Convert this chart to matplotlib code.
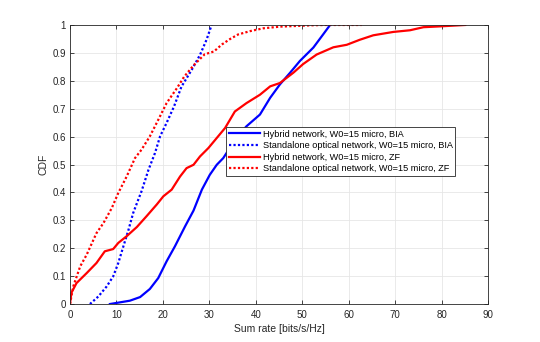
import matplotlib
matplotlib.use("Agg")
import matplotlib.pyplot as plt

plt.rcParams['font.family'] = ['Liberation Sans', 'DejaVu Sans']

# Hybrid network, BIA (blue solid)
hyb_bia_x = [8.6, 12.9, 15.1, 17.2, 19.0, 20.8, 22.6, 24.8, 26.6, 28.4, 30.1, 31.6,
             33.0, 33.7, 35.5, 38.0, 40.9, 43.1, 45.2, 47.4, 49.5, 52.4, 54.5, 56.0]
hyb_bia_y = [0, 0.012, 0.025, 0.054, 0.093, 0.153, 0.207, 0.279, 0.335, 0.410, 0.463, 0.499,
             0.523, 0.541, 0.59, 0.637, 0.679, 0.739, 0.787, 0.829, 0.871, 0.919, 0.966, 1.0]

# Standalone optical network, BIA (blue dotted)
opt_bia_x = [4.3, 6.1, 7.9, 9.3, 10.4, 11.5, 12.6, 13.6, 14.7, 15.4, 16.9, 18.3,
             19.4, 20.8, 22.4, 24.0, 26.2, 28.0, 29.4, 30.5]
opt_bia_y = [0, 0.027, 0.063, 0.099, 0.147, 0.207, 0.266, 0.326, 0.374, 0.404, 0.481, 0.541,
             0.601, 0.649, 0.708, 0.779, 0.839, 0.893, 0.947, 1.0]

# Hybrid network, ZF (red solid)
hyb_zf_x = [0, 0.3, 1.4, 3.6, 5.7, 7.5, 9.3, 10.4, 12.2, 14.4, 16.5, 18.7, 20.1, 21.9,
            23.7, 25.1, 26.6, 28.0, 29.8, 31.6, 33.4, 35.5, 38.0, 40.9, 43.1, 45.2, 48.1,
            50.2, 53.1, 56.7, 59.6, 62.4, 65.3, 69.6, 73.2, 76.1, 79.7, 85.1]
hyb_zf_y = [0, 0.04, 0.075, 0.111, 0.147, 0.189, 0.197, 0.219, 0.243, 0.276, 0.315, 0.357,
            0.386, 0.410, 0.457, 0.487, 0.499, 0.529, 0.559, 0.595, 0.631, 0.690, 0.720,
            0.750, 0.780, 0.792, 0.829, 0.860, 0.894, 0.920, 0.929, 0.947, 0.963, 0.975,
            0.981, 0.992, 0.995, 1.0]

# Standalone optical network, ZF (red dotted)
opt_zf_x = [0, 0.7, 2.2, 3.6, 5.7, 7.2, 9.0, 10.4, 12.2, 14.0, 15.4, 17.2, 19.0, 20.8,
            23.0, 24.6, 26.6, 29.0, 31.0, 32.7, 34.5, 36.2, 38.8, 41.6, 45.2, 52.4, 55.0, 62.8]
opt_zf_y = [0, 0.063, 0.135, 0.177, 0.254, 0.290, 0.344, 0.398, 0.457, 0.523, 0.553, 0.601,
            0.660, 0.720, 0.773, 0.815, 0.855, 0.895, 0.905, 0.930, 0.950, 0.966, 0.978,
            0.988, 0.994, 0.999, 1.0, 1.0]

labels = ["Hybrid network, W0=15 micro, BIA",
          "Standalone optical network, W0=15 micro, BIA",
          "Hybrid network, W0=15 micro, ZF",
          "Standalone optical network, W0=15 micro, ZF"]

fig = plt.figure(figsize=(5.4, 3.42), dpi=100)
ax = fig.add_axes([0.1296, 0.111, 0.7741, 0.816])

ax.plot(hyb_bia_x, hyb_bia_y, color=(0, 0, 1), lw=1.6, label=labels[0])
ax.plot(opt_bia_x, opt_bia_y, color=(0, 0, 1), lw=1.6, ls=(0, (1, 1)), label=labels[1])
ax.plot(hyb_zf_x, hyb_zf_y, color=(1, 0, 0), lw=1.6, label=labels[2])
ax.plot(opt_zf_x, opt_zf_y, color=(1, 0, 0), lw=1.6, ls=(0, (1, 1)), label=labels[3])

ax.set_xlim(0, 90)
ax.set_ylim(0, 1)
ax.set_xticks(range(0, 91, 10))
yt = [i / 10 for i in range(11)]
ax.set_yticks(yt)
ax.set_yticklabels(["0"] + ["%.1f" % v for v in yt[1:-1]] + ["1"])
ax.grid(True, color=(0.9, 0.9, 0.9), lw=0.6)
ax.set_axisbelow(True)
for s in ax.spines.values():
    s.set_color((0.15, 0.15, 0.15))
    s.set_linewidth(0.6)
ax.tick_params(direction='in', length=3, width=0.6, colors=(0.15, 0.15, 0.15),
               labelsize=7, top=True, right=True, pad=3)
ax.tick_params(axis='x', pad=4)
ax.set_xlabel("Sum rate [bits/s/Hz]", fontsize=7.5, color=(0.15, 0.15, 0.15), labelpad=3)
ax.set_ylabel("CDF", fontsize=7.5, color=(0.15, 0.15, 0.15), labelpad=3)

leg = ax.legend(loc='upper left', bbox_to_anchor=(0.373, 0.635), borderaxespad=0,
                fontsize=6.6, fancybox=False, framealpha=1, edgecolor=(0.15, 0.15, 0.15),
                handlelength=3.4, handletextpad=0.3, labelspacing=0.28, borderpad=0.3)
leg.get_frame().set_linewidth(0.6)

fig.savefig("out.png", dpi=100)
